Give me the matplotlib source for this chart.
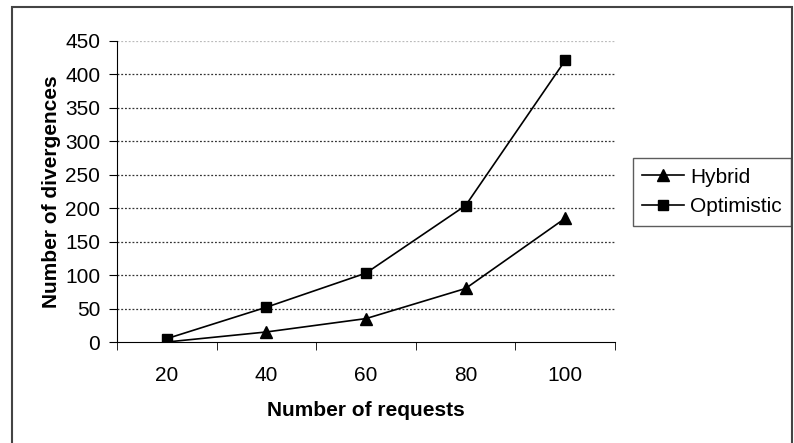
import matplotlib
matplotlib.use("Agg")
import matplotlib.pyplot as plt
from matplotlib.patches import Rectangle

plt.rcParams['font.family'] = ['Liberation Sans', 'DejaVu Sans']

# data
requests = [20, 40, 60, 80, 100]
hybrid = [0, 15, 35, 80, 185]
optimistic = [5, 52, 103, 204, 421]
yticks = list(range(0, 451, 50))

fig = plt.figure(figsize=(7.94, 4.43), dpi=100)
ax = fig.add_axes([117 / 794, 1 - 342 / 443, (615 - 117) / 794, (342 - 41) / 443])

pos = list(range(len(requests)))
ax.plot(pos, hybrid, color='black', lw=1.2, marker='^', ms=8, label='Hybrid')
ax.plot(pos, optimistic, color='black', lw=1.2, marker='s', ms=7.5, label='Optimistic')

ax.set_xlim(-0.5, len(requests) - 0.5)
ax.set_ylim(0, 450)
ax.set_xticks(pos)
ax.set_xticklabels([str(r) for r in requests], fontsize=15)
ax.set_xticks([p - 0.5 for p in pos] + [len(requests) - 0.5], minor=True)
ax.tick_params(axis='x', which='major', length=0, pad=17)
ax.tick_params(axis='x', which='minor', length=6, direction='out', color='black')
ax.set_yticks(yticks)
ax.set_yticklabels([str(t) for t in yticks], fontsize=15)
ax.tick_params(axis='y', length=6, direction='out', pad=6)

for t in yticks[1:]:
    c = '#bbbbbb' if t == 450 else '#333333'
    ax.axhline(t, color=c, lw=0.9, ls=(0, (1.5, 1.5)), zorder=0)

for s in ['top', 'right']:
    ax.spines[s].set_visible(False)
ax.spines['left'].set_color('black')
ax.spines['bottom'].set_color('black')

ax.set_xlabel('Number of requests', fontsize=15, fontweight='bold', labelpad=12)
ax.set_ylabel('Number of divergences', fontsize=15, fontweight='bold', labelpad=3)

leg = ax.legend(loc='center left', bbox_to_anchor=(633 / 794, 1 - 192 / 443),
                bbox_transform=fig.transFigure, fontsize=15, frameon=True,
                fancybox=False, edgecolor='#333333', handlelength=2.0,
                handletextpad=0.3, borderpad=0.45, labelspacing=0.5, borderaxespad=0)
leg.get_frame().set_linewidth(1.0)

# outer chart frame
fig.patches.append(Rectangle((12 / 794, -0.05), (792 - 12) / 794, 1.05 - 7 / 443,
                             transform=fig.transFigure, fill=False,
                             edgecolor='#444444', lw=1.5))

fig.savefig('out.png', dpi=100)
